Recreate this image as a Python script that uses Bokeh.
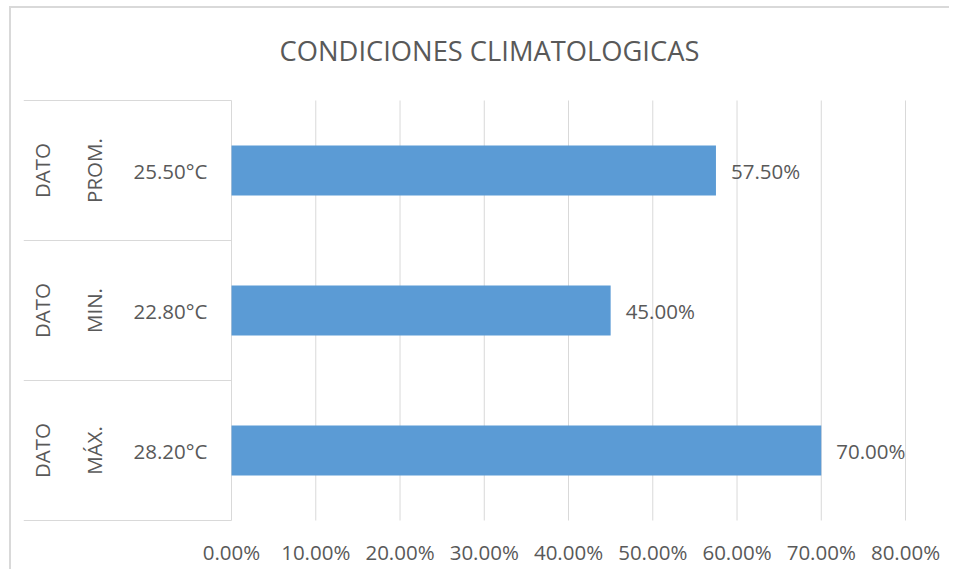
import math
from bokeh.plotting import figure
from bokeh.models import Range1d, FixedTicker, PrintfTickFormatter, ColumnDataSource
from bokeh.core.properties import value
from bokeh.embed import file_html
from bokeh.resources import INLINE

# ---- data ----
groups = ["DATO", "DATO", "DATO"]
stats = ["PROM.", "MIN.", "MÁX."]
temps = ["25.50°C", "22.80°C", "28.20°C"]
humidity = [57.50, 45.00, 70.00]          # percent
x_ticks = [0, 10, 20, 30, 40, 50, 60, 70, 80]
title_text = "CONDICIONES CLIMATOLOGICAS"

# ---- styling constants ----
TEXT = "#595959"
GRID = "#D9D9D9"
BAR = "#5B9BD5"
FONT = "Open Sans"

n = len(stats)
ypos = [n - 0.5 - i for i in range(n)]   # first category at top

ROW_PX = 140.0
FRAME_H = 513
Y0 = -0.0071
Y1 = Y0 + FRAME_H / ROW_PX               # extra room above the rows for the title
X0, X1 = -24.69, 84.27

p = figure(width=940, height=563, output_backend="svg", toolbar_location=None,
           x_range=Range1d(X0, X1), y_range=Range1d(Y0, Y1),
           y_axis_location=None, min_border_left=12, min_border_right=10,
           min_border_top=0, min_border_bottom=50,
           styles={"margin-left": "9px", "margin-top": "6px",
                   "border-left": "2px solid #D9D9D9", "border-top": "2px solid #D9D9D9"})

p.outline_line_color = None
p.background_fill_color = "white"
p.border_fill_color = "white"
p.xgrid.grid_line_color = None
p.ygrid.grid_line_color = None

ax = p.xaxis[0]
ax.ticker = FixedTicker(ticks=x_ticks)
ax.formatter = PrintfTickFormatter(format="%.2f%%")
ax.axis_line_color = None
ax.major_tick_line_color = None
ax.minor_tick_line_color = None
ax.major_tick_out = 0
ax.minor_tick_out = 0
ax.major_label_text_font = FONT
ax.major_label_text_font_size = "20.5px"
ax.major_label_text_color = TEXT
ax.major_label_standoff = 16

# vertical gridlines over the category rows only
p.segment(x0=x_ticks, x1=x_ticks, y0=[0] * len(x_ticks), y1=[n] * len(x_ticks),
          line_color=GRID, line_width=1)

# category separators
sep_y = list(range(n + 1))
p.segment(x0=[X0] * len(sep_y), x1=[0] * len(sep_y), y0=sep_y, y1=sep_y,
          line_color=GRID, line_width=1)

src = ColumnDataSource(dict(y=ypos, v=humidity, lab=[f"{h:.2f}%" for h in humidity],
                            temps=temps, stats=stats, groups=groups))

p.hbar(y="y", left=0, right="v", height=0.357, source=src, fill_color=BAR, line_color=None)

p.text(x="v", y="y", text="lab", source=src, x_offset=15, text_align="left",
       text_baseline="middle", text_font=value(FONT), text_font_size="20.5px", text_color=TEXT)

# multi-level category labels
p.text(x=-7.24, y="y", text="temps", source=src, text_align="center",
       text_baseline="middle", text_font=value(FONT), text_font_size="20.5px", text_color=TEXT)
p.text(x=-16.38, y="y", text="stats", source=src, angle=math.pi / 2, text_align="center",
       text_baseline="middle", text_font=value(FONT), text_font_size="20.5px", text_color=TEXT)
p.text(x=-22.55, y="y", text="groups", source=src, angle=math.pi / 2, text_align="center",
       text_baseline="middle", text_font=value(FONT), text_font_size="20.5px", text_color=TEXT)

# chart title, placed in the space above the rows
p.text(x=30.62, y=Y1 - 42 / ROW_PX, text=[title_text], text_align="center",
       text_baseline="middle", text_font=value(FONT), text_font_size="27.3px", text_color=TEXT)

open("out.html", "w").write(file_html(p, INLINE))
